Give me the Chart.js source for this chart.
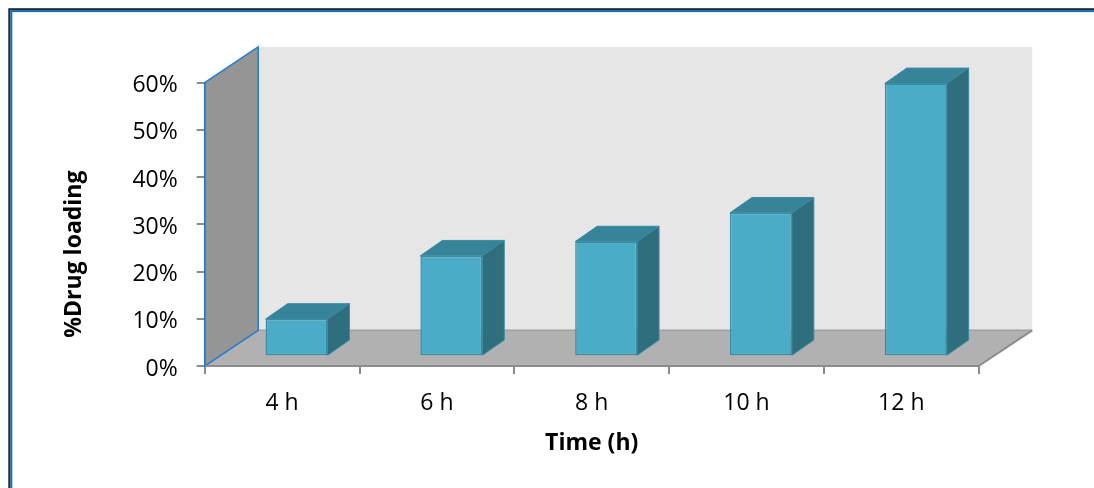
<!DOCTYPE html>
<html>
<head>
<meta charset="utf-8">
<script src="https://cdn.jsdelivr.net/npm/chart.js@4.4.1/dist/chart.umd.min.js"></script>
<style>
  html, body { margin: 0; padding: 0; background: #ffffff; }
  canvas { display: block; }
</style>
</head>
<body>
<canvas id="chart" width="1094" height="488"></canvas>
<script>
// Drug loading measured after each incubation time
const categories = ['4 h', '6 h', '8 h', '10 h', '12 h'];
const drugLoading = [7.9, 21.3, 24.3, 30.4, 57.8];   // percent
const yTickValues = [0, 10, 20, 30, 40, 50, 60];
const yTickLabels = ['0%', '10%', '20%', '30%', '40%', '50%', '60%'];
const xTitle = 'Time (h)';
const yTitle = '%Drug loading';

// Oblique 3D look: depth of the floor box and where the columns sit inside it
const DEPTH_X = 53.5;
const DEPTH_Y = 35.7;
const COL_FRONT = 0.27;   // fraction of the depth in front of the columns
const COL_DEPTH = 0.41;   // fraction of the depth taken by a column

const COLORS = {
  frameOuter: '#262626',
  frameInner: '#0b6fc0',
  backWall: '#e6e6e6',
  floor: '#b1b1b1',
  floorEdge: '#8c8c8c',
  floorBackEdge: '#a0a0a0',
  sideWall: '#959595',
  wallEdge: '#1f7bd0',
  colFront: '#4aacc6',
  colTop: '#37849a',
  colSide: '#2f6e7d',
  colEdge: '#3a8ca2'
};

function fillPoly(ctx, pts, fill, stroke, lw) {
  ctx.beginPath();
  ctx.moveTo(pts[0][0], pts[0][1]);
  for (let i = 1; i < pts.length; i++) ctx.lineTo(pts[i][0], pts[i][1]);
  ctx.closePath();
  if (fill) { ctx.fillStyle = fill; ctx.fill(); }
  if (stroke) { ctx.strokeStyle = stroke; ctx.lineWidth = lw || 1; ctx.stroke(); }
}

const box3d = {
  id: 'box3d',
  beforeDraw(chart) {
    const { ctx, scales: { x, y } } = chart;
    const L = x.left, R = x.right;
    const B = y.getPixelForValue(y.min), T = y.getPixelForValue(y.max);
    ctx.save();
    // chart frame (runs off the right and bottom edges)
    ctx.lineWidth = 2;
    ctx.strokeStyle = COLORS.frameOuter;
    ctx.strokeRect(9.3, 9.2, chart.width + 20, chart.height + 20);
    ctx.strokeStyle = COLORS.frameInner;
    ctx.strokeRect(11.3, 11.1, chart.width + 20, chart.height + 20);

    // back wall
    ctx.fillStyle = COLORS.backWall;
    ctx.fillRect(L + DEPTH_X, T - DEPTH_Y, R - L, B - T);

    // floor
    fillPoly(ctx, [[L, B], [R, B], [R + DEPTH_X, B - DEPTH_Y], [L + DEPTH_X, B - DEPTH_Y]], COLORS.floor);
    ctx.lineWidth = 1.5;
    ctx.strokeStyle = COLORS.floorBackEdge;
    ctx.beginPath();
    ctx.moveTo(L + DEPTH_X, B - DEPTH_Y);
    ctx.lineTo(R + DEPTH_X, B - DEPTH_Y);
    ctx.stroke();
    ctx.lineWidth = 2;
    ctx.strokeStyle = COLORS.floorEdge;
    ctx.beginPath();
    ctx.moveTo(R, B);
    ctx.lineTo(R + DEPTH_X, B - DEPTH_Y);
    ctx.stroke();

    // side wall
    fillPoly(ctx, [[L, B], [L, T], [L + DEPTH_X, T - DEPTH_Y], [L + DEPTH_X, B - DEPTH_Y]],
      COLORS.sideWall, COLORS.wallEdge, 1.5);
    ctx.restore();
  },
  beforeDatasetsDraw(chart) {
    // columns stand a little behind the front edge of the floor
    chart.ctx.save();
    chart.ctx.translate(DEPTH_X * COL_FRONT, -DEPTH_Y * COL_FRONT);
  },
  afterDatasetsDraw(chart) {
    const ctx = chart.ctx;
    const bx = DEPTH_X * COL_DEPTH, by = DEPTH_Y * COL_DEPTH * 1.05;
    chart.getDatasetMeta(0).data.forEach(bar => {
      const p = bar.getProps(['x', 'y', 'base', 'width'], true);
      const l = p.x - p.width / 2, r = p.x + p.width / 2;
      fillPoly(ctx, [[l, p.y], [l + bx, p.y - by], [r + bx, p.y - by], [r, p.y]],
        COLORS.colTop, COLORS.colEdge, 1);
      fillPoly(ctx, [[r, p.y], [r + bx, p.y - by], [r + bx, p.base - by], [r, p.base]],
        COLORS.colSide, COLORS.colEdge, 1);
    });
    ctx.restore();
  },
  afterDraw(chart) {
    // vertical axis title, centred a little below the middle of the axis
    const { ctx, scales: { y } } = chart;
    ctx.save();
    ctx.font = 'bold 23px "Open Sans"';
    ctx.fillStyle = '#000000';
    ctx.textAlign = 'center';
    ctx.textBaseline = 'middle';
    ctx.translate(74, y.getPixelForValue(y.max * 0.395));
    ctx.rotate(-Math.PI / 2);
    ctx.fillText(yTitle, 0, 0);
    ctx.restore();
  }
};

Chart.defaults.font.family = '"Open Sans"';
Chart.defaults.color = '#000000';

new Chart(document.getElementById('chart'), {
  type: 'bar',
  data: {
    labels: categories,
    datasets: [{
      data: drugLoading,
      backgroundColor: COLORS.colFront,
      borderColor: COLORS.colEdge,
      borderWidth: 1.5,
      borderSkipped: false,
      categoryPercentage: 1,
      barPercentage: 0.4
    }]
  },
  options: {
    responsive: false,
    animation: false,
    events: [],
    layout: { padding: { left: 0, top: 82.7, right: 115.3, bottom: 0 } },
    plugins: { legend: { display: false }, tooltip: { enabled: false } },
    scales: {
      x: {
        afterFit(s) { s.height = 122; },
        grid: { display: true, drawOnChartArea: false, drawTicks: true, tickLength: 8,
                color: COLORS.floorEdge, lineWidth: 2, offset: true },
        border: { display: true, color: COLORS.floorEdge, width: 2 },
        ticks: { font: { size: 23 }, padding: 16, maxRotation: 0 },
        title: { display: true, text: xTitle, font: { size: 23, weight: 'bold' },
                 padding: { top: 0, bottom: 31 } }
      },
      y: {
        min: 0,
        max: 60,
        afterFit(s) { s.width = 204.7; },
        afterBuildTicks(s) { s.ticks = yTickValues.map(v => ({ value: v })); },
        grid: { display: true, drawOnChartArea: false, drawTicks: true, tickLength: 8,
                color: COLORS.floorEdge, lineWidth: 2 },
        border: { display: true, color: COLORS.wallEdge, width: 1.5 },
        ticks: {
          font: { size: 23 },
          padding: 19,
          labelOffset: 3,
          callback: (v) => yTickLabels[yTickValues.indexOf(v)]
        }
      }
    }
  },
  plugins: [box3d]
});
</script>
</body>
</html>
